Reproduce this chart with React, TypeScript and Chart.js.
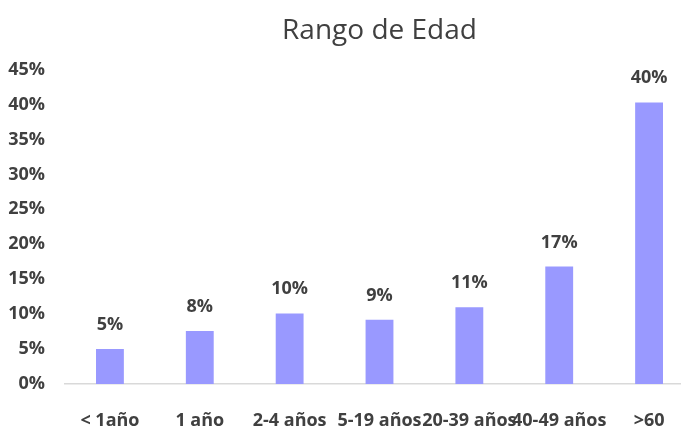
import { useEffect, useRef } from "react"
import { Chart, registerables, Plugin } from "chart.js"

Chart.register(...registerables)

const categories = ["< 1año", "1 año", "2-4 años", "5-19 años", "20-39 años", "40-49 años", ">60"]
const shares = [5.0, 7.6, 10.1, 9.2, 11.0, 16.8, 40.3]
const yTicks = [0, 5, 10, 15, 20, 25, 30, 35, 40, 45]

const TEXT = "#404040"
const FONT = "'Open Sans', sans-serif"

// draws the percentage above every bar
const valueLabels: Plugin<"bar"> = {
  id: "valueLabels",
  afterDatasetsDraw(chart) {
    const ctx = chart.ctx
    const meta = chart.getDatasetMeta(0)
    ctx.save()
    ctx.font = `bold 18px ${FONT}`
    ctx.fillStyle = TEXT
    ctx.textAlign = "center"
    ctx.textBaseline = "alphabetic"
    meta.data.forEach((bar, i) => {
      ctx.fillText(Math.round(shares[i]) + "%", bar.x, bar.y - 19)
    })
    ctx.restore()
  },
}

export default function App() {
  const chartRef = useRef<HTMLCanvasElement>(null)
  const chartInstance = useRef<Chart | null>(null)

  useEffect(() => {
    if (!chartRef.current) return
    if (chartInstance.current) chartInstance.current.destroy()

    chartInstance.current = new Chart(chartRef.current, {
      type: "bar",
      data: {
        labels: categories,
        datasets: [
          {
            data: shares,
            backgroundColor: "#9999FF",
            barPercentage: 0.31,
            categoryPercentage: 1,
          },
        ],
      },
      options: {
        responsive: false,
        animation: false,
        devicePixelRatio: 1,
        layout: { padding: { left: 0, right: 6, top: 0, bottom: 0 } },
        plugins: {
          legend: { display: false },
          tooltip: { enabled: false },
          title: {
            display: true,
            text: "Rango de Edad",
            fullSize: false,
            color: TEXT,
            font: { family: FONT, size: 28, weight: "normal" },
            padding: { top: 14, bottom: 22 },
          },
        },
        scales: {
          x: {
            grid: { display: false, drawTicks: false },
            border: { display: true, color: "#D9D9D9", width: 1.5 },
            ticks: {
              autoSkip: false,
              maxRotation: 0,
              minRotation: 0,
              padding: 26,
              color: TEXT,
              font: { family: FONT, size: 18, weight: "bold" },
            },
            afterFit: (scale) => {
              scale.height = 42
            },
          },
          y: {
            min: 0,
            max: 45,
            grid: { display: false, drawTicks: false },
            border: { display: false },
            afterBuildTicks: (scale) => {
              scale.ticks = yTicks.map((v) => ({ value: v }))
            },
            ticks: {
              padding: 20,
              color: TEXT,
              font: { family: FONT, size: 18, weight: "bold" },
              callback: (v) => v + "%",
            },
            afterFit: (scale) => {
              scale.width = 65
            },
          },
        },
      },
      plugins: [valueLabels],
    })

    return () => {
      if (chartInstance.current) {
        chartInstance.current.destroy()
        chartInstance.current = null
      }
    }
  }, [])

  return (
    <div
      style={{
        position: "fixed",
        left: 0,
        top: 0,
        width: 681,
        height: 426,
        overflow: "hidden",
        background: "#fff",
      }}
    >
      <canvas ref={chartRef} width={700} height={426} style={{ display: "block" }} />
    </div>
  )
}
